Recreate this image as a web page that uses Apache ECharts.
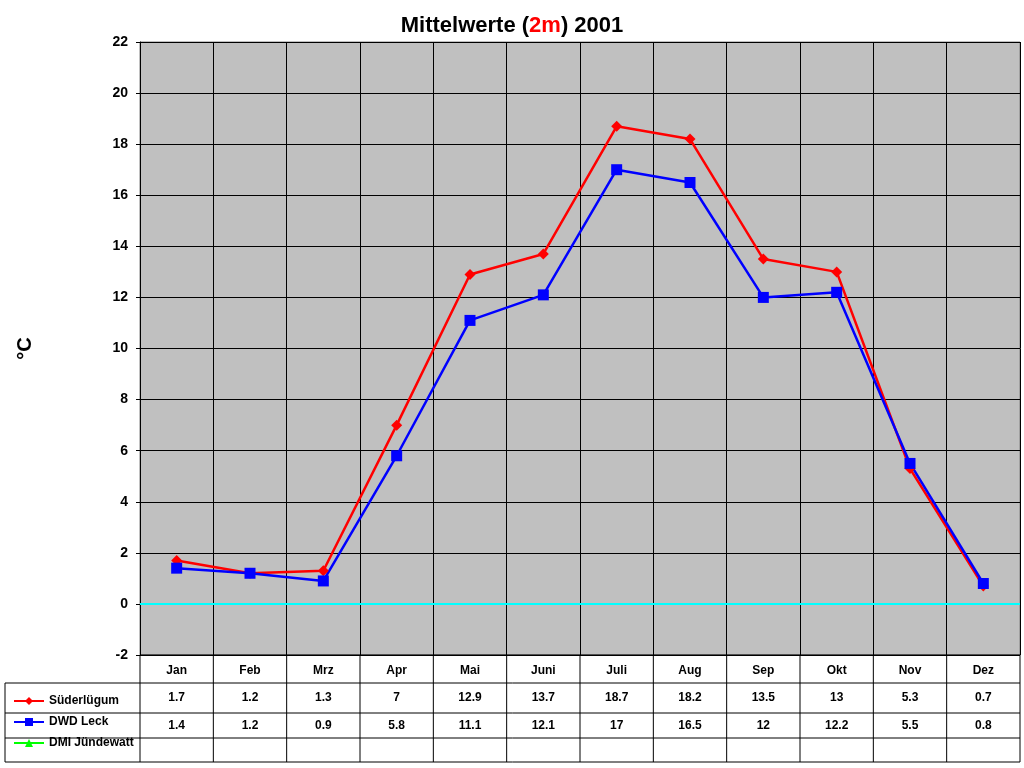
<!DOCTYPE html>
<html>
<head>
<meta charset="utf-8">
<script src="https://cdn.jsdelivr.net/npm/echarts@6/dist/echarts.min.js"></script>
<style>html,body{margin:0;padding:0;background:#fff}#chart{width:1024px;height:768px}</style>
</head>
<body>
<div id="chart"></div>
<script>
// Monatswerte 2001
var months = ['Jan', 'Feb', 'Mrz', 'Apr', 'Mai', 'Juni', 'Juli', 'Aug', 'Sep', 'Okt', 'Nov', 'Dez'];
var suederluegum = [1.7, 1.2, 1.3, 7, 12.9, 13.7, 18.7, 18.2, 13.5, 13, 5.3, 0.7];
var dwdLeck = [1.4, 1.2, 0.9, 5.8, 11.1, 12.1, 17, 16.5, 12, 12.2, 5.5, 0.8];
var dmiJuendewatt = [];

var gridLeft = 140, gridRight = 4, gridTop = 42, gridBottom = 113;
var rowY = [655, 683, 713, 738, 762]; // Tabellenzeilen

var chart = echarts.init(document.getElementById('chart'));
var font = 'Arial, "Liberation Sans", sans-serif';

var option = {
    backgroundColor: '#fff',
    animation: false,
    title: {
        text: 'Mittelwerte ({r|2m}) 2001',
        left: 'center',
        top: 10,
        textStyle: {
            fontFamily: font, fontSize: 22, fontWeight: 'bold', color: '#000',
            rich: {r: {fontFamily: font, fontSize: 22, fontWeight: 'bold', color: '#ff0000', textDecoration: 'underline'}}
        }
    },
    grid: {left: gridLeft, right: gridRight, top: gridTop, bottom: gridBottom, show: true, backgroundColor: '#c0c0c0', borderColor: '#808080'},
    legend: {
        orient: 'vertical',
        left: 8,
        top: 690,
        itemGap: 9,
        itemWidth: 30,
        itemHeight: 10,
        textStyle: {fontFamily: font, fontSize: 12, fontWeight: 'bold', color: '#000'},
        data: ['Süderlügum', 'DWD Leck', 'DMI Jündewatt']
    },
    xAxis: {
        type: 'category',
        data: months,
        boundaryGap: true,
        position: 'bottom',
        axisLine: {show: false},
        axisTick: {show: false},
        splitLine: {show: true, lineStyle: {color: '#000', width: 1}},
        axisLabel: {fontFamily: font, fontSize: 12, fontWeight: 'bold', color: '#000', margin: 10}
    },
    yAxis: {
        type: 'value',
        min: -2, max: 22, interval: 2,
        name: '°C',
        nameLocation: 'middle',
        nameGap: 105,
        nameRotate: 90,
        nameTextStyle: {fontFamily: font, fontSize: 20, fontWeight: 'bold', color: '#000'},
        axisLine: {show: true, lineStyle: {color: '#000'}},
        axisTick: {show: true, inside: false, length: 4, lineStyle: {color: '#000'}},
        splitLine: {show: true, lineStyle: {color: '#000', width: 1}},
        axisLabel: {fontFamily: font, fontSize: 14, fontWeight: 'bold', color: '#000', margin: 12}
    },
    series: [
        {
            name: 'Süderlügum', type: 'line', data: suederluegum,
            symbol: 'diamond', symbolSize: 11,
            lineStyle: {color: '#ff0000', width: 2.5},
            itemStyle: {color: '#ff0000'},
            markLine: {
                silent: true, symbol: 'none', label: {show: false},
                lineStyle: {color: '#00ffff', width: 2, type: 'solid'},
                data: [{yAxis: 0}]
            }
        },
        {
            name: 'DWD Leck', type: 'line', data: dwdLeck,
            symbol: 'rect', symbolSize: 11,
            lineStyle: {color: '#0000ff', width: 2.5},
            itemStyle: {color: '#0000ff'}
        },
        {
            name: 'DMI Jündewatt', type: 'line', data: dmiJuendewatt,
            symbol: 'triangle', symbolSize: 11,
            lineStyle: {color: '#00ff00', width: 2.5},
            itemStyle: {color: '#00ff00'}
        }
    ]
};
chart.setOption(option);

// Datentabelle unter dem Diagramm
function buildTable() {
    var g = [];
    var x0 = gridLeft, x1 = 1024 - gridRight;
    var step = (x1 - x0) / months.length;
    var line = function (ax, ay, bx, by) {
        g.push({type: 'line', shape: {x1: ax, y1: ay, x2: bx, y2: by}, style: {stroke: '#000', lineWidth: 1}, silent: true});
    };
    line(x0, rowY[0], x1, rowY[0]);
    for (var r = 1; r < rowY.length; r++) line(5, rowY[r], x1, rowY[r]);
    line(5, rowY[1], 5, rowY[4]);
    for (var k = 0; k <= months.length; k++) line(x0 + k * step, rowY[0], x0 + k * step, rowY[4]);
    var rows = [suederluegum, dwdLeck];
    rows.forEach(function (vals, ri) {
        vals.forEach(function (v, i) {
            var px = chart.convertToPixel({xAxisIndex: 0}, i);
            g.push({
                type: 'text', silent: true,
                x: px, y: (rowY[ri + 1] + rowY[ri + 2]) / 2,
                style: {text: String(v), fontFamily: font, fontSize: 12, fontWeight: 'bold', fill: '#000', align: 'center', verticalAlign: 'middle'}
            });
        });
    });
    chart.setOption({graphic: g});
}
buildTable();
</script>
</body>
</html>
